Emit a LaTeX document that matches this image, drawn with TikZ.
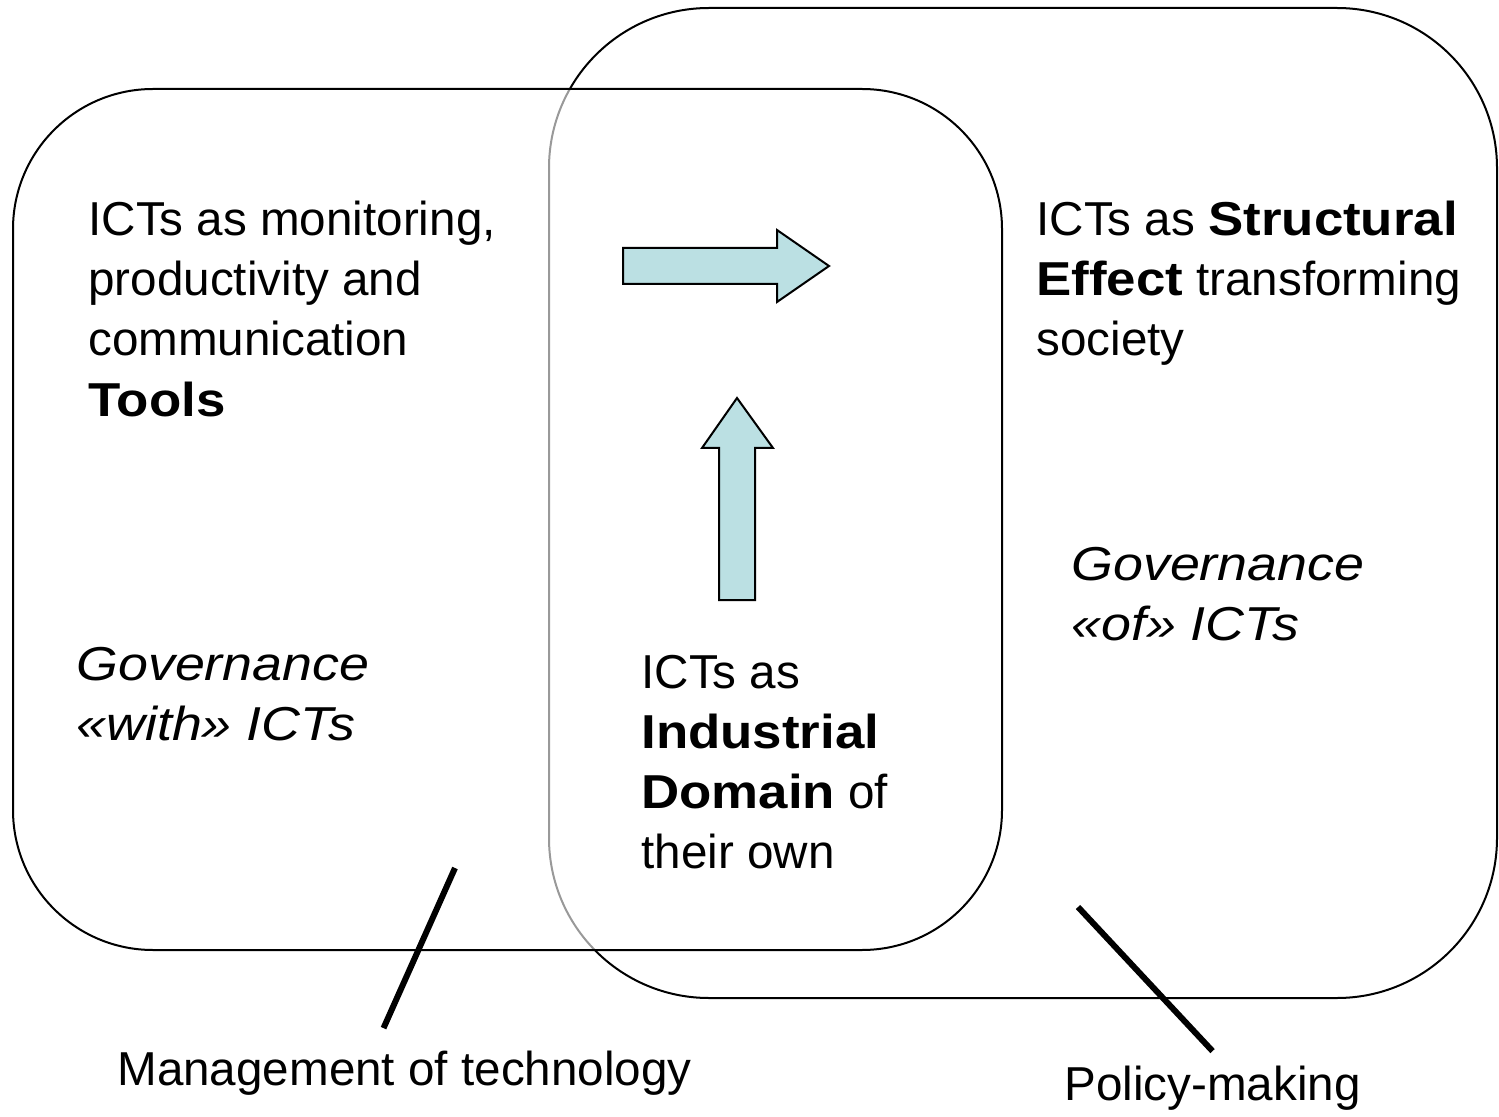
\documentclass[tikz,border=0pt]{standalone}
\usepackage{fontspec}
\setmainfont{Liberation Sans}[
  BoldFeatures={FakeStretch=1.11},
  ItalicFeatures={FakeStretch=1.13}]
\definecolor{arrowfill}{RGB}{187,224,227}
\tikzset{
  panel/.style={draw, line width=1pt},
  blockarrow/.style={draw, line width=1pt, fill=arrowfill, line join=miter},
  caption/.style={font=\fontsize{23.8}{30}\selectfont, align=left, inner sep=0pt, anchor=base west},
  pointer/.style={line width=3pt},
}

\begin{document}
\begin{tikzpicture}[x=0.5pt,y=-0.5pt]
  \useasboundingbox (0,0) rectangle (1499,1117);

  % the two areas, the left one half covers the right one
  \draw[panel, rounded corners=80pt] (549,8) rectangle (1497,998);
  \draw[panel, rounded corners=70pt, fill=white, fill opacity=0.6] (13,89) rectangle (1002,950);

  % block arrows
  \draw[blockarrow] (623,248) -- (777,248) -- (777,230) -- (829,266)
        -- (777,302) -- (777,284) -- (623,284) -- cycle;
  \draw[blockarrow] (719,600) -- (719,448) -- (702,448) -- (737,398)
        -- (773,448) -- (755,448) -- (755,600) -- cycle;

  % texts (base anchor = last line)
  \node[caption] (tools) at (88,416)
        {ICTs as monitoring,\\productivity and\\communication\\\textbf{Tools}};
  \node[caption] (effect) at (1036,356)
        {ICTs as \textbf{Structural}\\\textbf{Effect} transforming\\society};
  \node[caption] (domain) at (641,868)
        {ICTs as\\\textbf{Industrial}\\\textbf{Domain} of\\their own};
  \node[caption, font=\fontsize{23.8}{30}\selectfont\itshape] (withgov) at (76,740)
        {Governance\\«with» ICTs};
  \node[caption, font=\fontsize{23.8}{30}\selectfont\itshape] (ofgov) at (1071,640)
        {Governance\\«of» ICTs};
  \node[caption] (mgmt) at (117,1085) {Management of technology};
  \node[caption] (policy) at (1064,1100) {Policy-making};

  % pointers from the labels to the areas
  \coordinate (mgmt-tip) at (455,868);
  \coordinate (policy-tip) at (1078,907);
  \draw[pointer] ([xshift=-10.5pt, yshift=11pt]mgmt.north) -- (mgmt-tip);
  \draw[pointer] ([yshift=7pt]policy.north) -- (policy-tip);
\end{tikzpicture}
\end{document}
